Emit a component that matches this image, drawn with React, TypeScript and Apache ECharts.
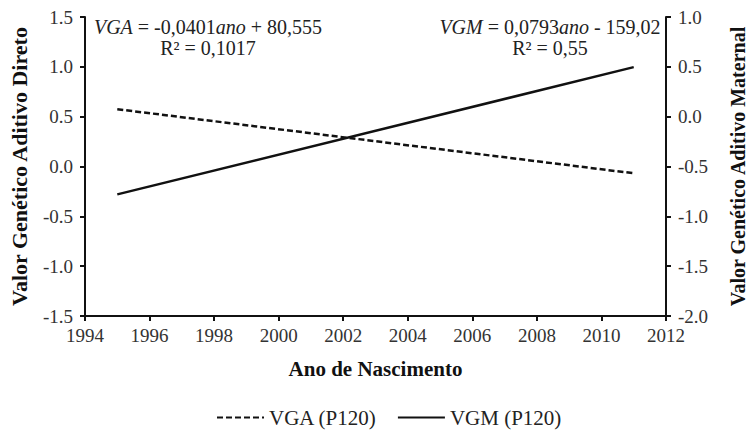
import React, { useEffect, useRef } from "react";
import * as echarts from "echarts";

// Birth years at which the fitted trends are drawn
const years = [1995, 2011];
// Direct additive genetic value trend (left axis)
const vgaValues = [0.575, -0.068];
// Maternal additive genetic value trend (right axis)
const vgmValues = [-0.78, 0.497];

const seriesNames = ["VGA (P120)", "VGM (P120)"];
const vgaEquation = ["{i|VGA} = -0,0401{i|ano} + 80,555", "R² = 0,1017"];
const vgmEquation = ["{i|VGM} = 0,0793{i|ano} - 159,02", "R² = 0,55"];

const FONT = "Liberation Serif";

export default function App() {
  const ref = useRef<HTMLDivElement>(null);

  useEffect(() => {
    if (!ref.current) return;
    const chart = echarts.init(ref.current, undefined, { renderer: "svg" });

    const axisLine = { show: true, onZero: false, lineStyle: { color: "#111", width: 2 } };
    const axisTick = { show: true, length: 5, lineStyle: { color: "#111", width: 2 } };
    const labelStyle = { color: "#333", fontFamily: FONT, fontSize: 19 };
    const nameStyle = (size: number) => ({
      color: "#111",
      fontFamily: FONT,
      fontSize: size,
      fontWeight: "bold" as const,
    });

    const eqText = (lines: string[], cx: number) =>
      lines.map((t, i) => ({
        type: "text",
        x: cx,
        y: 27 + i * 21,
        style: {
          text: t,
          fill: "#222",
          fontFamily: FONT,
          fontSize: 20,
          align: "center",
          verticalAlign: "middle",
          rich: { i: { fontStyle: "italic", fontFamily: FONT, fontSize: 20, fill: "#222" } },
        },
      }));

    chart.setOption({
      animation: false,
      backgroundColor: "#fff",
      grid: { left: 83, right: 83, top: 17, bottom: 115, containLabel: false },
      legend: {
        bottom: -2,
        left: 211,
        data: seriesNames,
        itemWidth: 47,
        itemHeight: 12,
        itemGap: 20,
        itemStyle: { opacity: 0 },
        textStyle: { color: "#222", fontFamily: FONT, fontSize: 21 },
      },
      xAxis: {
        type: "value",
        min: 1994,
        max: 2012,
        interval: 2,
        name: "Ano de Nascimento",
        nameLocation: "middle",
        nameGap: 42,
        nameTextStyle: nameStyle(21),
        axisLine,
        axisTick,
        splitLine: { show: false },
        axisLabel: { ...labelStyle, margin: 10, formatter: (v: number) => String(v) },
      },
      yAxis: [
        {
          type: "value",
          position: "left",
          min: -1.5,
          max: 1.5,
          interval: 0.5,
          name: "Valor Genético Aditivo Direto",
          nameLocation: "middle",
          nameRotate: 90,
          nameGap: 55,
          nameTextStyle: nameStyle(22),
          axisLine,
          axisTick,
          splitLine: { show: false },
          axisLabel: { ...labelStyle, margin: 12, formatter: (v: number) => v.toFixed(1) },
        },
        {
          type: "value",
          position: "right",
          min: -2.0,
          max: 1.0,
          interval: 0.5,
          name: "Valor Genético Aditivo Maternal",
          nameLocation: "middle",
          nameRotate: 90,
          nameGap: 62,
          nameTextStyle: nameStyle(20),
          axisLine,
          axisTick,
          splitLine: { show: false },
          axisLabel: { ...labelStyle, margin: 12, formatter: (v: number) => v.toFixed(1) },
        },
      ],
      series: [
        {
          name: seriesNames[0],
          type: "line",
          yAxisIndex: 0,
          symbol: "none",
          data: years.map((y, i) => [y, vgaValues[i]]),
          lineStyle: { color: "#111", width: 2.5, type: [6, 3] },
          itemStyle: { color: "#111" },
        },
        {
          name: seriesNames[1],
          type: "line",
          yAxisIndex: 1,
          symbol: "none",
          data: years.map((y, i) => [y, vgmValues[i]]),
          lineStyle: { color: "#111", width: 2.5, type: "solid" },
          itemStyle: { color: "#111" },
        },
      ],
      graphic: [...eqText(vgaEquation, 208), ...eqText(vgmEquation, 550)],
    });

    return () => chart.dispose();
  }, []);

  return <div ref={ref} style={{ width: 756, height: 431, position: "absolute", left: 0, top: 0 }} />;
}
